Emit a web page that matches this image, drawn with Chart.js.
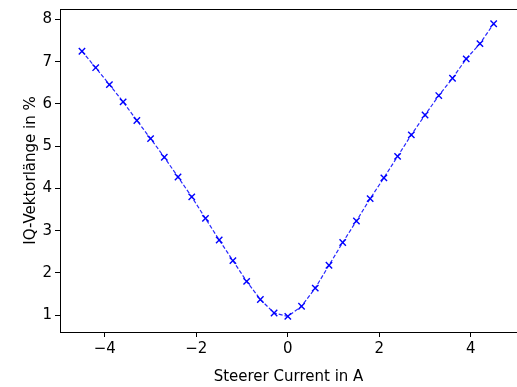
<!DOCTYPE html>
<html>
<head>
<meta charset="utf-8">
<script src="https://cdn.jsdelivr.net/npm/chart.js@4/dist/chart.umd.min.js"></script>
<style>
  html, body { margin: 0; padding: 0; background: #fff; }
  #wrap { width: 517px; height: 387px; overflow: hidden; }
</style>
</head>
<body>
<div id="wrap"><canvas id="ivChart" width="517" height="387"></canvas></div>
<script>
// steerer current in A
const currents = [
  -4.5, -4.2, -3.9, -3.6, -3.3, -3.0, -2.7, -2.4, -2.1, -1.8, -1.5,
  -1.2, -0.9, -0.6, -0.3, 0.0, 0.3, 0.6, 0.9, 1.2, 1.5, 1.8,
  2.1, 2.4, 2.7, 3.0, 3.3, 3.6, 3.9, 4.2, 4.5
];
// IQ vector length in %
const iqLength = [
  7.25, 6.86, 6.46, 6.05, 5.61, 5.18, 4.74, 4.27, 3.80, 3.29, 2.78,
  2.29, 1.80, 1.37, 1.05, 0.97, 1.21, 1.64, 2.18, 2.72, 3.23, 3.76,
  4.25, 4.76, 5.27, 5.74, 6.20, 6.61, 7.07, 7.43, 7.90
];
const xTicks = [-4, -2, 0, 2, 4];
const yTicks = [1, 2, 3, 4, 5, 6, 7, 8];

const fontFamily = "'DejaVu Sans', sans-serif";

// top spine like matplotlib (right one is cut off in the reference)
const topSpine = {
  id: "topSpine",
  afterDraw(chart) {
    const { ctx, chartArea } = chart;
    ctx.save();
    ctx.strokeStyle = "#000";
    ctx.lineWidth = 1;
    ctx.beginPath();
    ctx.moveTo(chartArea.left, chartArea.top + 0.5);
    ctx.lineTo(chartArea.right, chartArea.top + 0.5);
    ctx.stroke();
    ctx.restore();
  }
};

const minusFmt = v => (v < 0 ? "\u2212" + Math.abs(v) : String(v));

new Chart(document.getElementById("ivChart"), {
  type: "scatter",
  data: {
    datasets: [{
      data: currents.map((c, i) => ({ x: c, y: iqLength[i] })),
      showLine: true,
      borderColor: "rgba(0,0,255,0.85)",
      backgroundColor: "#0000ff",
      borderWidth: 1.2,
      borderDash: [4, 2],
      pointStyle: "crossRot",
      pointRadius: 4.5,
      pointBorderColor: "#0000ff",
      pointBorderWidth: 1.4,
      pointHoverRadius: 4.5
    }]
  },
  options: {
    responsive: false,
    animation: false,
    layout: { autoPadding: false, padding: { top: 9, right: -2, left: 0, bottom: 0 } },
    plugins: { legend: { display: false }, tooltip: { enabled: false } },
    scales: {
      x: {
        type: "linear",
        min: -4.98,
        max: 5.01,
        afterFit: s => { s.height = 55; s.paddingLeft = 0; s.paddingRight = 0; },
        afterBuildTicks: s => { s.ticks = xTicks.map(v => ({ value: v })); },
        ticks: {
          color: "#000",
          padding: 3,
          maxRotation: 0,
          font: { family: fontFamily, size: 15 },
          callback: minusFmt
        },
        grid: { drawOnChartArea: false, color: "#000", tickLength: 5 },
        border: { color: "#000", width: 1 },
        title: {
          display: true,
          text: "Steerer Current in A",
          color: "#000",
          font: { family: fontFamily, size: 15 },
          padding: { top: 0, bottom: 1 }
        }
      },
      y: {
        type: "linear",
        min: 0.6,
        max: 8.25,
        afterFit: s => { s.width = 60; s.paddingTop = 0; s.paddingBottom = 0; },
        afterBuildTicks: s => { s.ticks = yTicks.map(v => ({ value: v })); },
        ticks: {
          color: "#000",
          padding: 3,
          font: { family: fontFamily, size: 15 },
          callback: minusFmt
        },
        grid: { drawOnChartArea: false, color: "#000", tickLength: 5 },
        border: { color: "#000", width: 1 },
        title: {
          display: true,
          text: "IQ-Vektorlänge in %",
          color: "#000",
          font: { family: fontFamily, size: 15 },
          padding: { top: 22, bottom: 0 }
        }
      }
    }
  },
  plugins: [topSpine]
});
</script>
</body>
</html>
